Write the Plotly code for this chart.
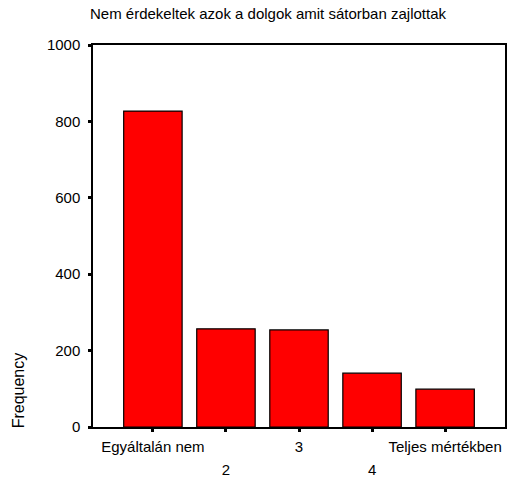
import plotly.graph_objects as go

categories = ["Egyáltalán nem", "2", "3", "4", "Teljes mértékben"]
frequencies = [827, 257, 254, 141, 99]
upper_tick_labels = ["Egyáltalán nem", "", "3", "", "Teljes mértékben"]
lower_tick_labels = ["", "2", "", "4", ""]
y_ticks = [0, 200, 400, 600, 800, 1000]

positions = list(range(len(categories)))

fig = go.Figure()
fig.add_trace(go.Bar(
    x=positions,
    y=frequencies,
    width=0.8,
    marker=dict(color="#ff0000", line=dict(color="#000000", width=1.2)),
    hoverinfo="y",
))
# invisible companion on the overlaying axis so that the second row of labels is drawn
fig.add_trace(go.Scatter(
    x=positions, y=frequencies, xaxis="x2", yaxis="y",
    mode="markers", marker=dict(opacity=0), hoverinfo="skip", showlegend=False,
))

FAM = "Liberation Sans, Arial, sans-serif"
font = dict(family=FAM, size=15, color="#000000")

fig.update_layout(
    width=514, height=485,
    margin=dict(l=93, r=7, t=45, b=58),
    paper_bgcolor="#ffffff", plot_bgcolor="#ffffff",
    font=font,
    showlegend=False,
    title=dict(text="Nem érdekeltek azok a dolgok amit sátorban zajlottak",
               x=268 / 514, xanchor="center", y=1 - 14 / 485, yanchor="middle",
               font=dict(family=FAM, size=15, color="#000000")),
    xaxis=dict(
        range=[-0.82, 4.82],
        tickmode="array", tickvals=positions, ticktext=upper_tick_labels,
        ticks="outside", ticklen=3, tickwidth=3, tickcolor="#000000",
        showline=True, linecolor="#000000", linewidth=1.5, mirror=True,
        showgrid=False, zeroline=False, tickfont=font,
        ticklabelstandoff=2,
        fixedrange=True,
    ),
    xaxis2=dict(
        overlaying="x", anchor="y", side="bottom",
        range=[-0.82, 4.82],
        tickmode="array", tickvals=positions, ticktext=lower_tick_labels,
        ticks="", showline=False, showgrid=False, zeroline=False,
        tickfont=font, ticklabelstandoff=32,
        fixedrange=True,
    ),
    yaxis=dict(
        range=[0, 1000],
        tickmode="array", tickvals=y_ticks,
        ticks="outside", ticklen=3, tickwidth=3, tickcolor="#000000",
        showline=True, linecolor="#000000", linewidth=1.5, mirror=True,
        showgrid=False, zeroline=False, tickfont=font,
        ticklabelstandoff=5,
        fixedrange=True,
    ),
    annotations=[dict(
        text="Frequency", textangle=-90,
        xref="paper", yref="paper",
        x=-75 / 414, y=(427 - 390) / 382,
        xanchor="center", yanchor="middle", showarrow=False,
        font=dict(family=FAM, size=16, color="#000000"),
    )],
)

fig.write_html("out.html", config={"displayModeBar": False},
               post_script="document.body.style.margin='0px';")
